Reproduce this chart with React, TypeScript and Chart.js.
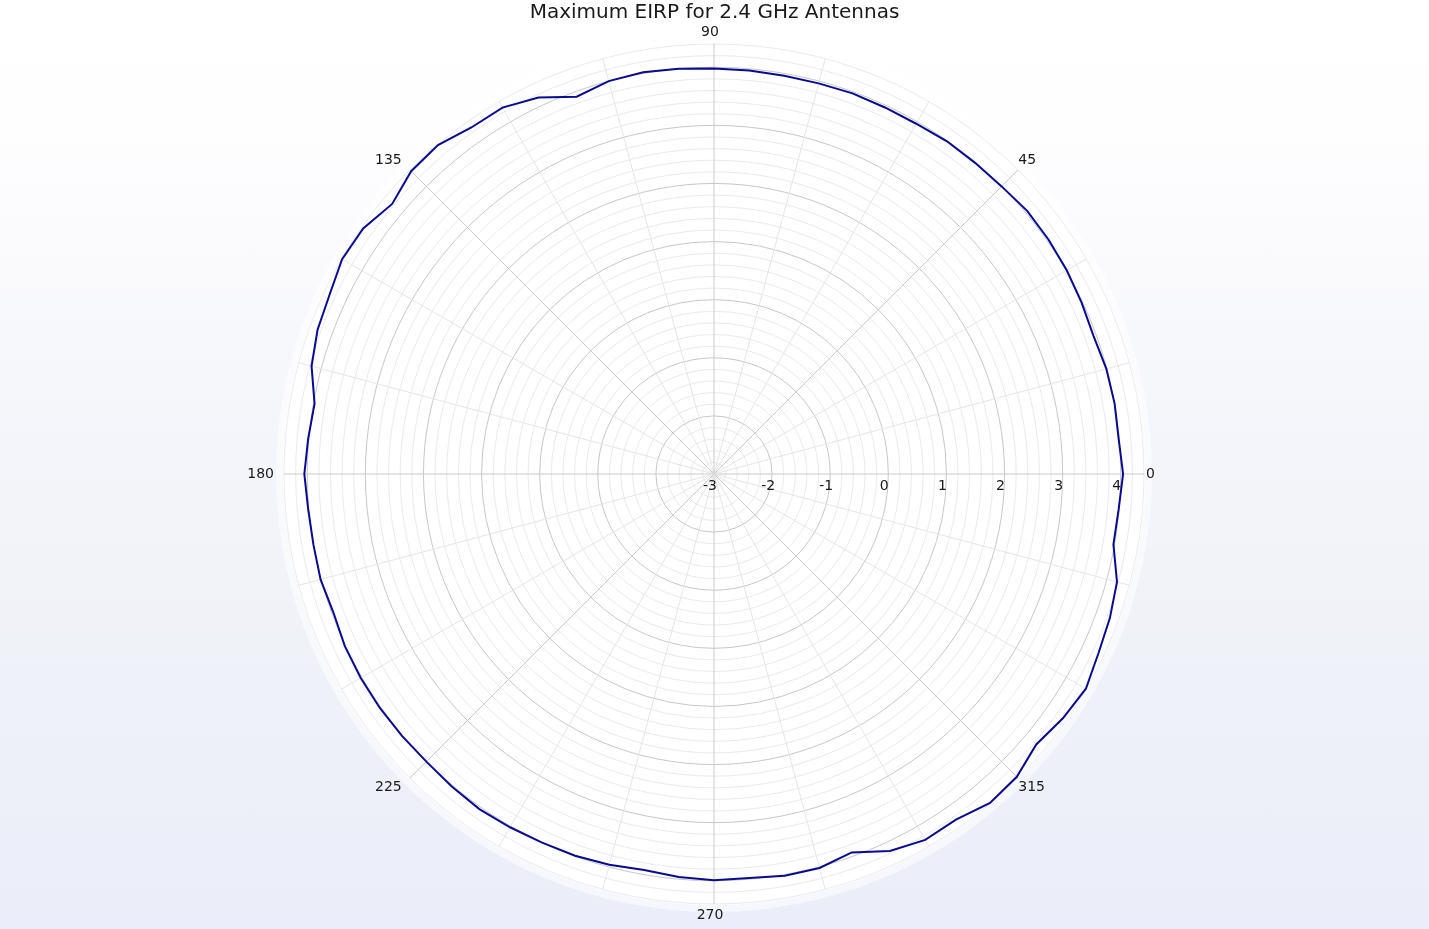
import React, { useEffect, useRef } from "react";
import { Chart, registerables } from "chart.js";

Chart.register(...registerables);

// ---- data (angles in degrees, counter-clockwise from the right) ----
const angleDeg = [
  0, 5, 10, 15, 20, 25, 30, 35, 40, 45, 50, 55, 60, 65, 70, 75, 80, 85,
  90, 95, 100, 105, 110, 115, 120, 125, 130, 135, 140, 145, 150, 155, 160, 165, 170, 175,
  180, 185, 190, 195, 200, 205, 210, 215, 220, 225, 230, 235, 240, 245, 250, 255, 260, 265,
  270, 275, 280, 285, 290, 295, 300, 305, 310, 315, 320, 325, 330, 335, 340, 345, 350, 355,
];

const eirp = [
  4.04, 3.99, 4.0, 3.99, 3.95, 3.98, 4.01, 4.03, 4.04, 4.0, 3.99, 3.99, 3.96, 3.96, 3.97, 3.96, 3.96, 3.97,
  3.98, 4.0, 4.02, 4.0, 3.91, 4.15, 4.28, 4.28, 4.39, 4.37, 4.23, 4.37, 4.39, 4.3, 4.26, 4.17, 3.98, 4.01,
  4.05, 4.01, 4.0, 4.01, 3.97, 4.01, 4.02, 4.02, 4.01, 4.0, 4.02, 4.04, 4.02, 4.0, 3.99, 3.96, 3.92, 3.96,
  3.99, 3.98, 4.02, 4.02, 3.93, 4.16, 4.27, 4.26, 4.39, 4.37, 4.24, 4.33, 4.39, 4.3, 4.25, 4.18, 3.98, 3.99,
];

const angleTickLabels = [0, 45, 90, 135, 180, 225, 270, 315];
const radialTickLabels = [-3, -2, -1, 0, 1, 2, 3, 4];
const radialMin = -3;
const radialMax = 4.4;
const minorStep = 0.2;

const TITLE = "Maximum EIRP for 2.4 GHz Antennas";
const FONT = "DejaVu Sans";

// Radar scale runs clockwise from the top; order the angles so 90 is first
const order = angleDeg
  .map((a, i) => i)
  .sort((i, j) => ((90 - angleDeg[i] + 360) % 360) - ((90 - angleDeg[j] + 360) % 360));
const radarLabels = order.map((i) => String(angleDeg[i]));
const radarValues = order.map((i) => eirp[i]);

const polarDecor = {
  id: "polarDecor",
  beforeDraw(chart: any) {
    const r = chart.scales.r;
    const ctx = chart.ctx;
    const cx = r.xCenter;
    const cy = r.yCenter;
    const R = r.drawingArea;
    ctx.save();
    ctx.fillStyle = "rgba(255,255,255,0.55)";
    ctx.beginPath();
    ctx.arc(cx, cy, R + 8, 0, Math.PI * 2);
    ctx.fill();
    ctx.fillStyle = "#ffffff";
    ctx.beginPath();
    ctx.arc(cx, cy, R + 1, 0, Math.PI * 2);
    ctx.fill();
    ctx.restore();
  },
  afterDraw(chart: any) {
    const r = chart.scales.r;
    const ctx = chart.ctx;
    const cx = r.xCenter;
    const cy = r.yCenter;
    const R = r.drawingArea;
    ctx.save();
    ctx.font = `14px "${FONT}"`;
    ctx.fillStyle = "#1a1a1a";
    // angular labels
    angleTickLabels.forEach((a) => {
      const rad = (a * Math.PI) / 180;
      const c = Math.cos(rad);
      const s = Math.sin(rad);
      const x = cx - 4 + (R + 6) * c;
      let y = cy - (R + 6) * s;
      if (c > 0.1) ctx.textAlign = "left";
      else if (c < -0.1) ctx.textAlign = "right";
      else ctx.textAlign = "center";
      if (s > 0.1) y -= 5.5;
      else if (s < -0.1) y += 5.5;
      ctx.textBaseline = "middle";
      ctx.fillText(String(a), x, y);
    });
    // radial labels along the 0 degree axis
    ctx.textAlign = "center";
    ctx.textBaseline = "middle";
    radialTickLabels.forEach((v) => {
      const d = r.getDistanceFromCenterForValue(v);
      ctx.fillText(String(v), cx + d - 4, cy + 12);
    });
    ctx.restore();
  },
};

export default function App() {
  const ref = useRef<HTMLCanvasElement | null>(null);

  useEffect(() => {
    if (!ref.current) return;
    Chart.defaults.font.family = FONT;
    const isMajorAngle = (i: number) => Number(radarLabels[i]) % 45 === 0;
    const isMinorAngle = (i: number) => Number(radarLabels[i]) % 15 === 0;
    const chart = new Chart(ref.current, {
      type: "radar",
      data: {
        labels: radarLabels,
        datasets: [
          {
            label: "EIRP",
            data: radarValues,
            borderColor: "#0a0a90",
            borderWidth: 2,
            pointRadius: 0,
            pointHoverRadius: 0,
            fill: false,
            tension: 0,
          },
        ],
      },
      options: {
        animation: false,
        responsive: true,
        maintainAspectRatio: false,
        layout: { padding: { top: 0, bottom: 25, left: 0, right: 0 } },
        plugins: {
          legend: { display: false },
          tooltip: { enabled: false },
          title: {
            display: true,
            text: TITLE,
            color: "#1a1a1a",
            font: { family: FONT, size: 20, weight: "normal" },
            padding: { top: 1, bottom: 19 },
          },
        },
        scales: {
          r: {
            min: radialMin,
            max: radialMax,
            startAngle: 0,
            afterBuildTicks: (scale: any) => {
              const n = Math.round((radialMax - radialMin) / minorStep);
              const t: any[] = [];
              for (let k = 0; k <= n; k++) {
                t.push({ value: Math.round((radialMin + k * minorStep) * 10) / 10 });
              }
              scale.ticks = t;
            },
            ticks: { display: false },
            pointLabels: { display: false },
            grid: {
              circular: true,
              color: (c: any) => {
                const v = c.tick ? c.tick.value : 0;
                return Math.abs(v - Math.round(v)) < 1e-6 ? "#c8c8c8" : "#ebebeb";
              },
              lineWidth: 1,
            },
            angleLines: {
              display: true,
              color: (c: any) =>
                isMajorAngle(c.index) ? "#cacaca" : isMinorAngle(c.index) ? "#e6e6e6" : "rgba(0,0,0,0)",
              lineWidth: (c: any) => (isMinorAngle(c.index) ? 1 : 0),
            },
          },
        },
      },
      plugins: [polarDecor],
    });
    return () => chart.destroy();
  }, []);

  return (
    <div
      style={{
        position: "fixed",
        left: 0,
        top: 0,
        width: "100vw",
        height: "100vh",
        background:
          "linear-gradient(to bottom, #ffffff 0%, #fefeff 14%, #f4f5fa 48%, #eef1f7 75%, #ebeefa 100%)",
      }}
    >
      <canvas ref={ref} style={{ display: "block", width: "100%", height: "100%" }} />
    </div>
  );
}
